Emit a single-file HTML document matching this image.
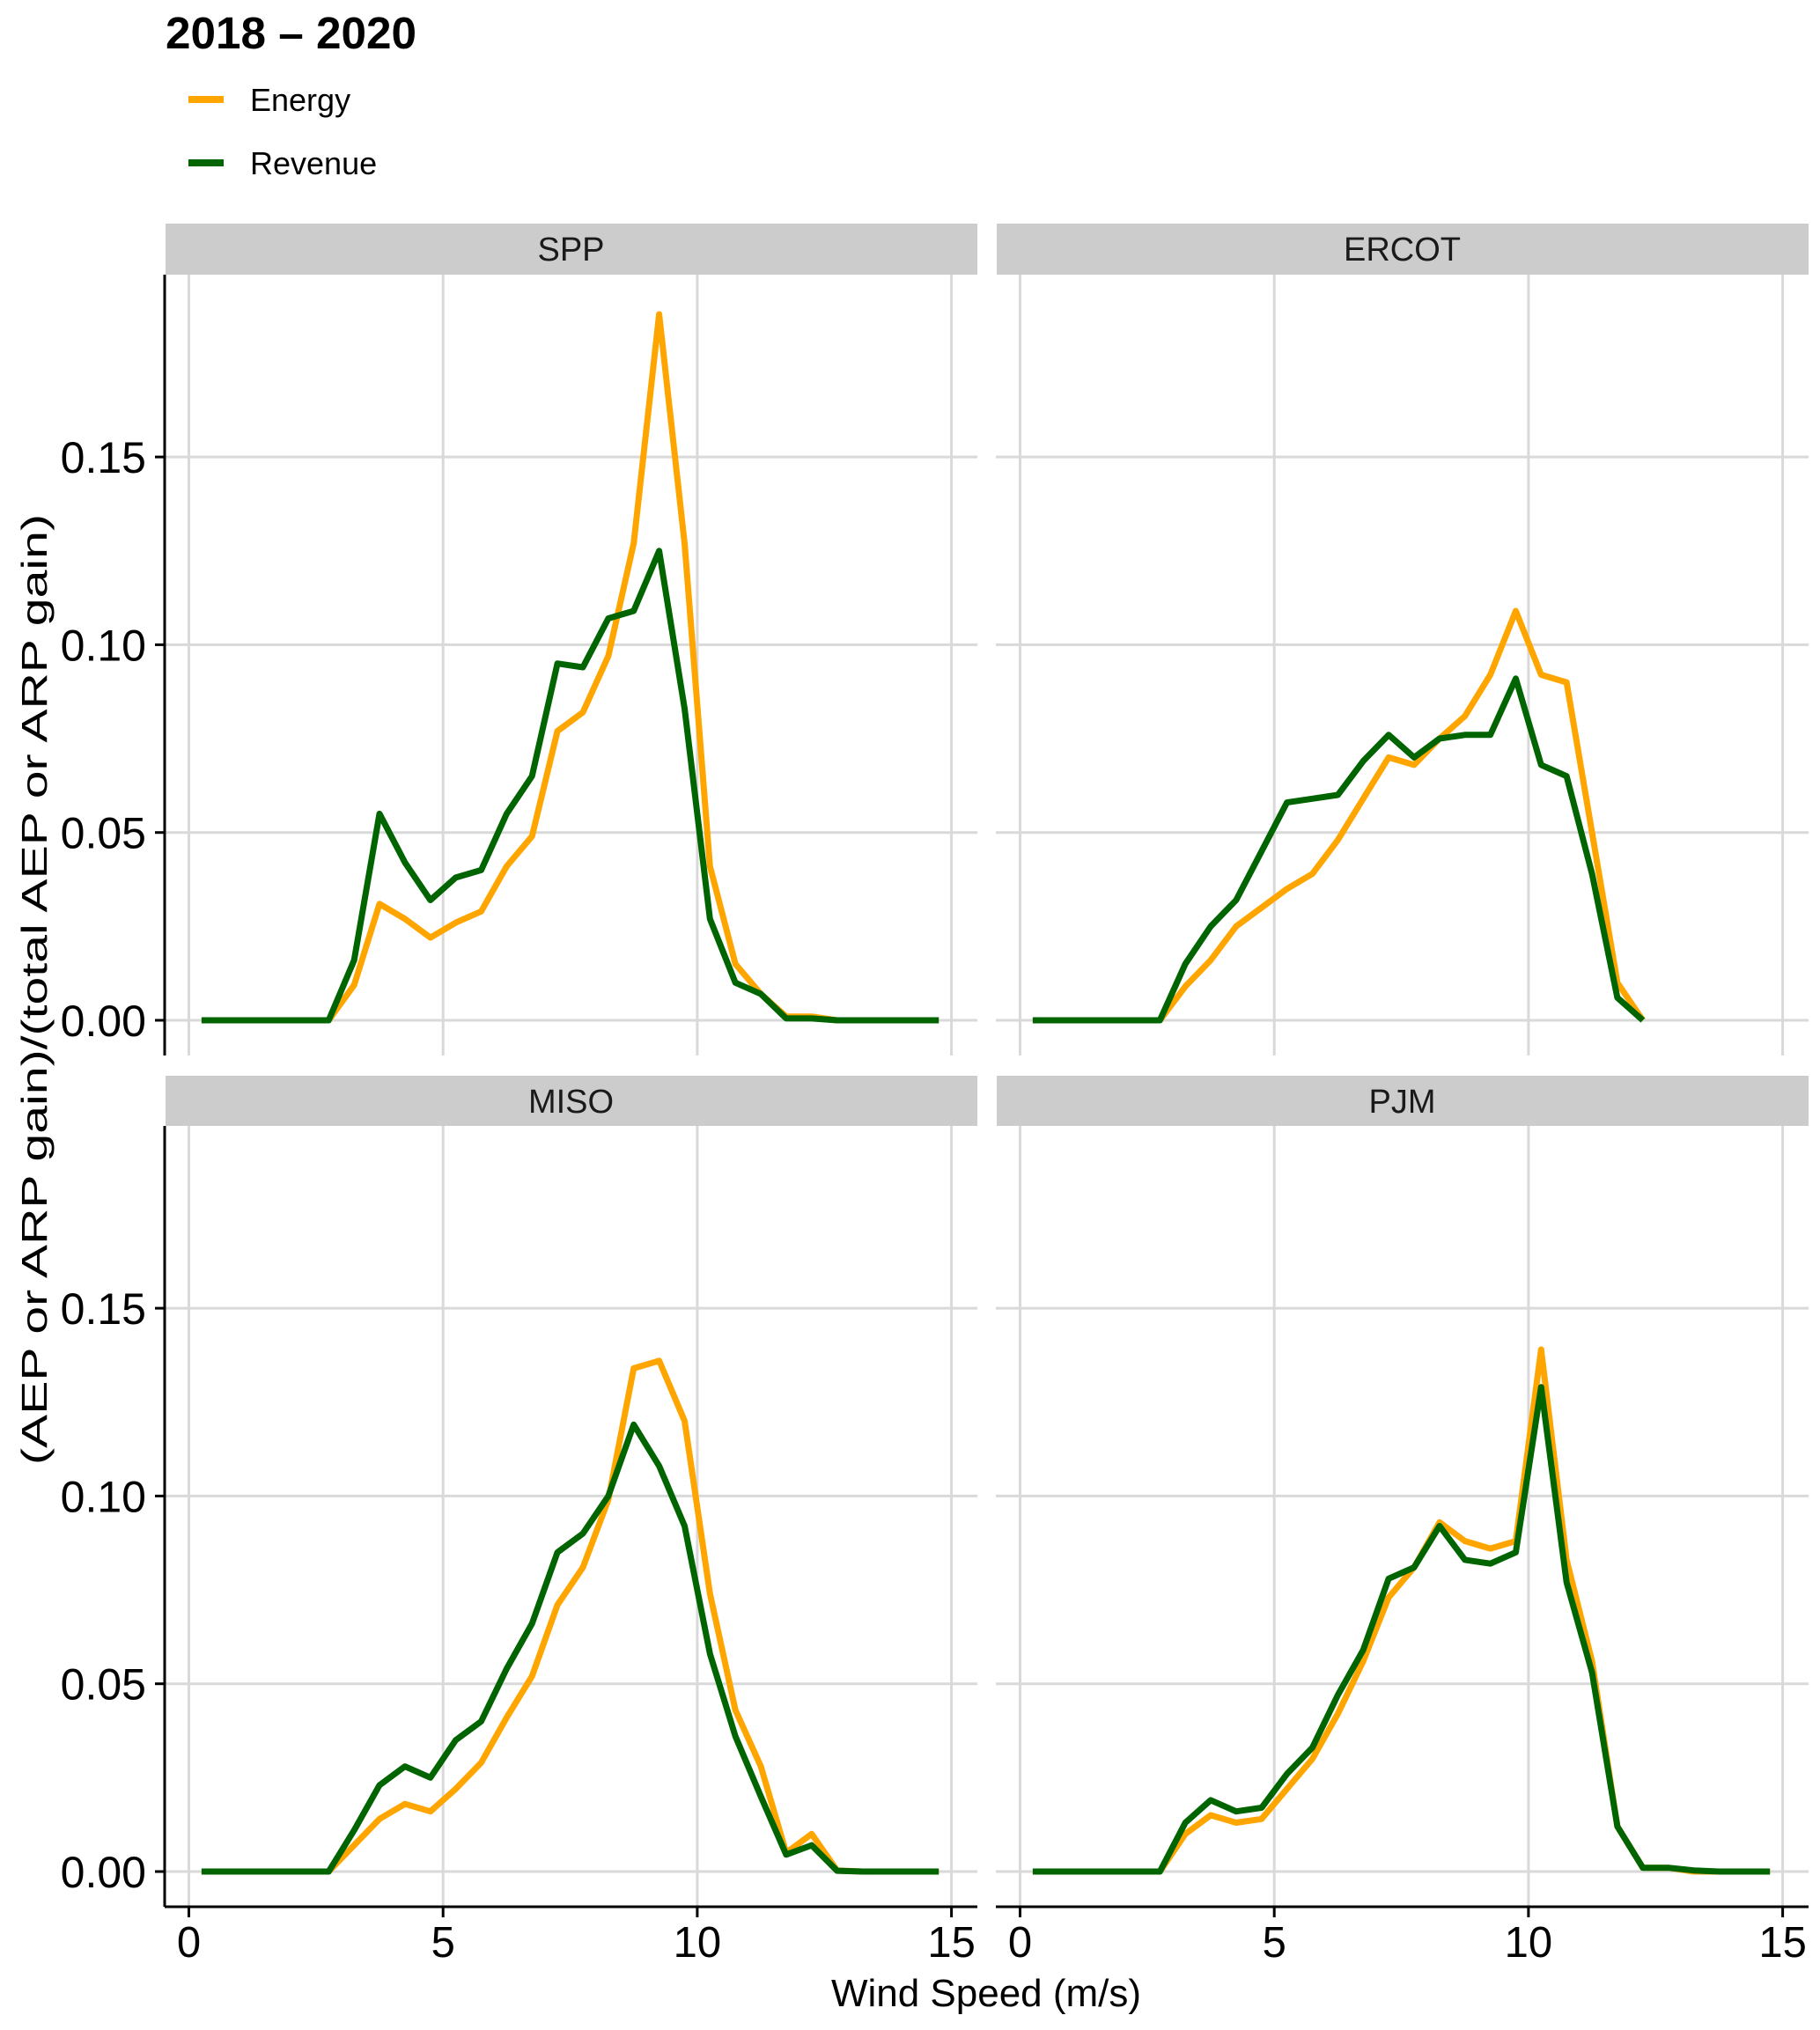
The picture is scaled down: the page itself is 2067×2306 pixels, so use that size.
<!DOCTYPE html>
<html><head><meta charset="utf-8"><style>
html,body{margin:0;padding:0;background:#fff;}
svg{display:block;font-family:"Liberation Sans",sans-serif;}
</style></head><body>
<svg id="chart" width="2067" height="2306" viewBox="0 0 2067 2306" xmlns="http://www.w3.org/2000/svg">
<text x="188" y="55" font-size="51" font-weight="bold" fill="#000" textLength="285" lengthAdjust="spacingAndGlyphs">2018 – 2020</text>
<g>
<line x1="214" y1="113" x2="254" y2="113" stroke="#FFA500" stroke-width="8"/>
<text x="284" y="126" font-size="36">Energy</text>
<line x1="214" y1="185" x2="254" y2="185" stroke="#006400" stroke-width="8"/>
<text x="284" y="198" font-size="36">Revenue</text>
</g>
<text transform="translate(53,1664) rotate(-90)" font-size="41" textLength="1080" lengthAdjust="spacingAndGlyphs">(AEP or ARP gain)/(total AEP or ARP gain)</text>
<text x="1120" y="2279" font-size="44" text-anchor="middle">Wind Speed (m/s)</text>
</svg>
<script>
const panelNames = ["SPP","ERCOT","MISO","PJM"];
const windSpeeds = [0.25,0.75,1.25,1.75,2.25,2.75,3.25,3.75,4.25,4.75,5.25,5.75,6.25,6.75,7.25,7.75,8.25,8.75,9.25,9.75,10.25,10.75,11.25,11.75,12.25,12.75,13.25,13.75,14.25,14.75];
const xTicks = [0,5,10,15];
const xTickLabels = ["0","5","10","15"];
const yTicks = [0,0.05,0.10,0.15];
const yTickLabels = ["0.00","0.05","0.10","0.15"];
const sppEnergy = [0,0,0,0,0,0,0.0094,0.031,0.027,0.022,0.026,0.029,0.041,0.049,0.077,0.082,0.097,0.127,0.188,0.127,0.041,0.015,0.007,0.001,0.001,0,0,0,0,0];
const sppRevenue = [0,0,0,0,0,0,0.016,0.055,0.042,0.032,0.038,0.040,0.055,0.065,0.095,0.094,0.107,0.109,0.125,0.083,0.027,0.010,0.007,0.0005,0.0005,0,0,0,0,0];
const ercotEnergy = [0,0,0,0,0,0,0.009,0.016,0.025,0.030,0.035,0.039,0.048,0.059,0.070,0.068,0.075,0.081,0.092,0.109,0.092,0.090,0.050,0.010,0.000];
const ercotRevenue = [0,0,0,0,0,0,0.015,0.025,0.032,0.045,0.058,0.059,0.060,0.069,0.076,0.070,0.075,0.076,0.076,0.091,0.068,0.065,0.039,0.006,0.000];
const misoEnergy = [0,0,0,0,0,0,0.007,0.014,0.018,0.016,0.022,0.029,0.041,0.052,0.071,0.081,0.099,0.134,0.136,0.120,0.074,0.043,0.028,0.005,0.010,0.0003,0,0,0,0];
const misoRevenue = [0,0,0,0,0,0,0.011,0.023,0.028,0.025,0.035,0.040,0.054,0.066,0.085,0.090,0.100,0.119,0.108,0.092,0.058,0.036,0.020,0.0045,0.007,0.0002,0,0,0,0];
const pjmEnergy = [0,0,0,0,0,0,0.010,0.015,0.013,0.014,0.022,0.030,0.042,0.056,0.073,0.081,0.093,0.088,0.086,0.088,0.139,0.083,0.056,0.012,0.001,0.001,0,0,0,0];
const pjmRevenue = [0,0,0,0,0,0,0.013,0.019,0.016,0.017,0.026,0.033,0.047,0.059,0.078,0.081,0.092,0.083,0.082,0.085,0.129,0.077,0.053,0.012,0.001,0.001,0.0003,0,0,0,0];

const NS="http://www.w3.org/2000/svg";
const svg=document.getElementById('chart');
function mk(tag,attrs,parent){const e=document.createElementNS(NS,tag);for(const k in attrs)e.setAttribute(k,attrs[k]);(parent||svg).appendChild(e);return e;}
const layout=[
 {left:187,right:1110,top:312,bottom:1199,stripTop:254,x0:214.5,y0:1159,col:0,row:0,e:sppEnergy,r:sppRevenue},
 {left:1131,right:2054,top:312,bottom:1199,stripTop:254,x0:1158.5,y0:1159,col:1,row:0,e:ercotEnergy,r:ercotRevenue},
 {left:187,right:1110,top:1279,bottom:2166,stripTop:1222,x0:214.5,y0:2126,col:0,row:1,e:misoEnergy,r:misoRevenue},
 {left:1131,right:2054,top:1279,bottom:2166,stripTop:1222,x0:1158.5,y0:2126,col:1,row:1,e:pjmEnergy,r:pjmRevenue}
];
const PXX=57.74, PXY=4266;
layout.forEach((p,i)=>{
  const xs=v=>p.x0+v*PXX, ys=v=>p.y0-v*PXY;
  const g=mk('g',{});
  
  
  const strip=mk('rect',{x:p.left+1,y:p.stripTop,width:p.right-p.left-1,height:p.top-p.stripTop,fill:'#cccccc'},g);
  
  
  const st=mk('text',{x:(p.left+p.right)/2,y:p.stripTop+42,'font-size':38,'text-anchor':'middle',fill:'#1a1a1a'},g);
  st.textContent=panelNames[i];
  
  
  xTicks.forEach(t=>{const l=mk('line',{x1:xs(t),x2:xs(t),y1:p.top,y2:p.bottom,stroke:'#d9d9d9','stroke-width':3},g);
    
    });
  yTicks.forEach(t=>{const l=mk('line',{x1:p.left,x2:p.right,y1:ys(t),y2:ys(t),stroke:'#d9d9d9','stroke-width':3},g);
    
    });
  [['e','#FFA500','energy'],['r','#006400','revenue']].forEach(([k,c,n])=>{
    const vals=p[k];
    const pts=vals.map((v,j)=>xs(windSpeeds[j]).toFixed(1)+','+ys(v).toFixed(1)).join(' ');
    const pl=mk('polyline',{points:pts,fill:'none',stroke:c,'stroke-width':7,'stroke-linejoin':'round','stroke-linecap':'butt'},g);
    
    
  });
  if(p.row===1){
    const ax=mk('line',{x1:p.left,x2:p.right,y1:p.bottom,y2:p.bottom,stroke:'#000','stroke-width':3},g);
    
    
    xTicks.forEach((t,j)=>{
      mk('line',{x1:xs(t),x2:xs(t),y1:p.bottom,y2:p.bottom+12,stroke:'#000','stroke-width':3},g);
      const tl=mk('text',{x:xs(t),y:2223,'font-size':49,'text-anchor':'middle'},g);
      tl.textContent=xTickLabels[j];
      
      
    });
  }
  if(p.col===0){
    const ay=mk('line',{x1:p.left,x2:p.left,y1:p.top,y2:p.bottom,stroke:'#000','stroke-width':3},g);
    
    
    yTicks.forEach((t,j)=>{
      mk('line',{x1:p.left-11,x2:p.left,y1:ys(t),y2:ys(t),stroke:'#000','stroke-width':3},g);
      const tl=mk('text',{x:166,y:ys(t)+18,'font-size':50,'text-anchor':'end'},g);
      tl.textContent=yTickLabels[j];
      
      
    });
  }
});
</script>
</body></html>
